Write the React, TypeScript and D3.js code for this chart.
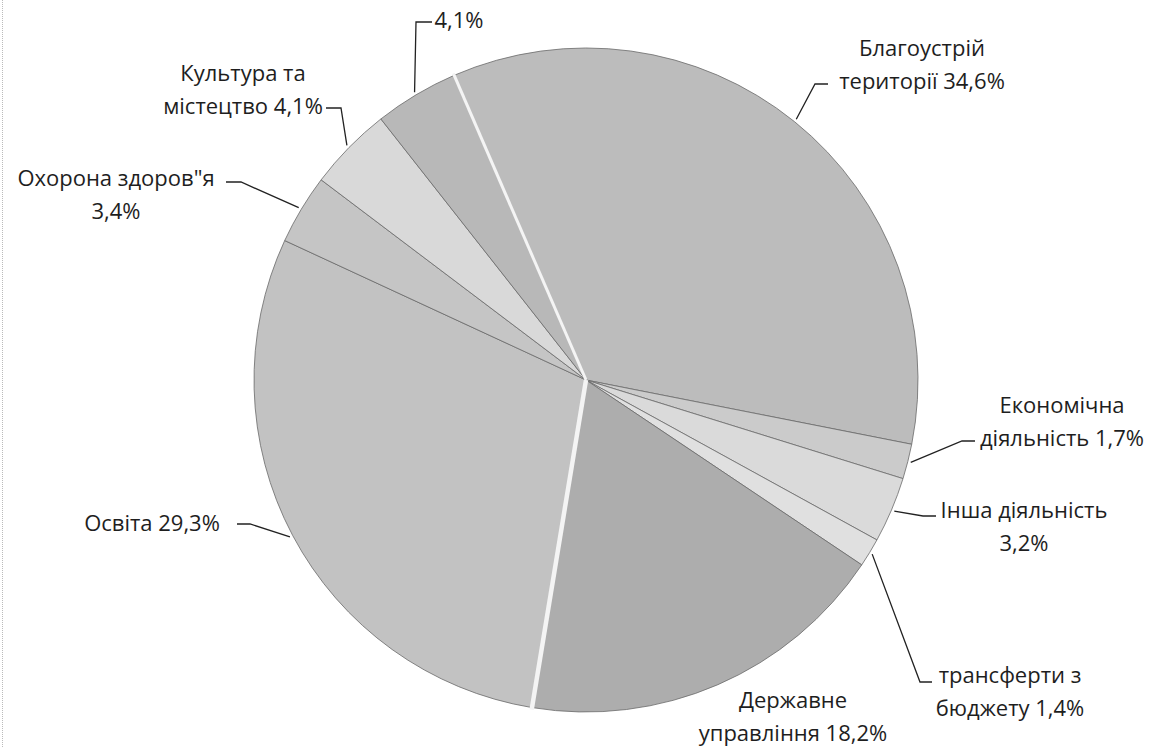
import { useEffect, useRef } from "react";
import * as d3 from "d3";

// slice order, clockwise from the top-right big slice
const categories = [
  "Благоустрій території",
  "Економічна діяльність",
  "Інша діяльність",
  "трансферти з бюджету",
  "Державне управління",
  "Освіта",
  "Охорона здоров\"я",
  "Культура та містецтво",
  "",
];
const shares = [34.6, 1.7, 3.2, 1.4, 18.2, 29.3, 3.4, 4.1, 4.1];
const sliceColors = [
  "#bcbcbc",
  "#cbcbcb",
  "#dadada",
  "#e0e0e0",
  "#adadad",
  "#c2c2c2",
  "#c5c5c5",
  "#d9d9d9",
  "#b8b8b8",
];

// label text lines (same order as categories)
const labelLines = [
  ["Благоустрій", "території 34,6%"],
  ["Економічна", "діяльність 1,7%"],
  ["Інша діяльність", "3,2%"],
  ["трансферти з", "бюджету 1,4%"],
  ["Державне", "управління 18,2%"],
  ["Освіта 29,3%"],
  ["Охорона здоров\"я", "3,4%"],
  ["Культура та", "містецтво 4,1%"],
  ["4,1%"],
];

// label layout: text centre x, first baseline y, leader elbows (null = no leader)
const labelLayout: { x: number; y: number; elbows: number[][] | null }[] = [
  { x: 922, y: 56, elbows: [[828, 84], [815, 84]] },
  { x: 1062, y: 413, elbows: [[975, 441], [962, 441]] },
  { x: 1024, y: 518, elbows: [[936, 516], [923, 516]] },
  { x: 1010, y: 683, elbows: [[932, 682], [920, 682]] },
  { x: 793, y: 708, elbows: null },
  { x: 152, y: 531, elbows: [[237, 524], [250, 524]] },
  { x: 116, y: 186, elbows: [[226, 182], [241, 182]] },
  { x: 243, y: 81, elbows: [[326, 108], [341, 108]] },
  { x: 459, y: 28, elbows: [[432, 22], [416, 22]] },
];

const width = 1160;
const height = 747;
const cx = 586;
const cy = 380;
const radius = 332;
const startDeg = -23.4;
const lineHeight = 33;

const App = () => {
  const ref = useRef<SVGSVGElement>(null);

  useEffect(() => {
    const svg = d3.select(ref.current);
    svg.selectAll("*").remove();

    const data = categories.map((c, i) => ({ name: c, value: shares[i], i }));
    const start = (startDeg * Math.PI) / 180;
    const pie = d3
      .pie<any>()
      .sort(null)
      .value((d) => d.value)
      .startAngle(start)
      .endAngle(start + 2 * Math.PI);
    const arcs = pie(data);
    const arc = d3.arc<any>().innerRadius(0).outerRadius(radius);

    // scanner edge on the left
    svg
      .append("line")
      .attr("x1", 2.5)
      .attr("x2", 2.5)
      .attr("y1", 0)
      .attr("y2", height)
      .attr("stroke", "#bbb")
      .attr("stroke-dasharray", "1,1");

    const g = svg.append("g").attr("transform", `translate(${cx},${cy})`);

    g.selectAll("path")
      .data(arcs)
      .join("path")
      .attr("d", arc)
      .attr("fill", (d) => sliceColors[d.data.i])
      .attr("stroke", "#6a6a6a")
      .attr("stroke-width", 0.8);

    // white gaps (Благоустрій start, Державне/Освіта boundary)
    const gapAt = [
      { a: arcs[0].startAngle, w: 3 },
      { a: arcs[4].endAngle, w: 4.5 },
    ];
    g.selectAll("line.gap")
      .data(gapAt)
      .join("line")
      .attr("class", "gap")
      .attr("x1", 0)
      .attr("y1", 0)
      .attr("x2", (d) => Math.sin(d.a) * (radius + 2))
      .attr("y2", (d) => -Math.cos(d.a) * (radius + 2))
      .attr("stroke", "#f4f4f4")
      .attr("stroke-width", (d) => d.w);

    // leader lines
    const leaders = arcs
      .map((d) => {
        const lay = labelLayout[d.data.i];
        if (!lay.elbows) return null;
        const mid = (d.startAngle + d.endAngle) / 2;
        const r = radius + 3;
        const p0 = [cx + Math.sin(mid) * r, cy - Math.cos(mid) * r];
        return [p0, ...lay.elbows.slice().reverse()];
      })
      .filter((d) => d !== null) as number[][][];

    svg
      .append("g")
      .selectAll("path")
      .data(leaders)
      .join("path")
      .attr("d", (d) => d3.line()(d as [number, number][]))
      .attr("fill", "none")
      .attr("stroke", "#222")
      .attr("stroke-width", 1.3);

    // labels
    const labels = svg
      .append("g")
      .attr("font-family", "'Open Sans', 'Noto Sans', sans-serif")
      .attr("font-size", 22)
      .attr("fill", "#1e1e1e")
      .attr("text-anchor", "middle");

    labelLines.forEach((lines, i) => {
      const lay = labelLayout[i];
      const t = labels.append("text").attr("x", lay.x).attr("y", lay.y);
      lines.forEach((ln, j) => {
        t.append("tspan")
          .attr("x", lay.x)
          .attr("dy", j === 0 ? 0 : lineHeight)
          .text(ln);
      });
    });
  }, []);

  return (
    <div>
      <svg
        ref={ref}
        width={width}
        height={height}
        style={{ position: "absolute", left: 0, top: 0, background: "#fff" }}
      />
    </div>
  );
};

export default App;
